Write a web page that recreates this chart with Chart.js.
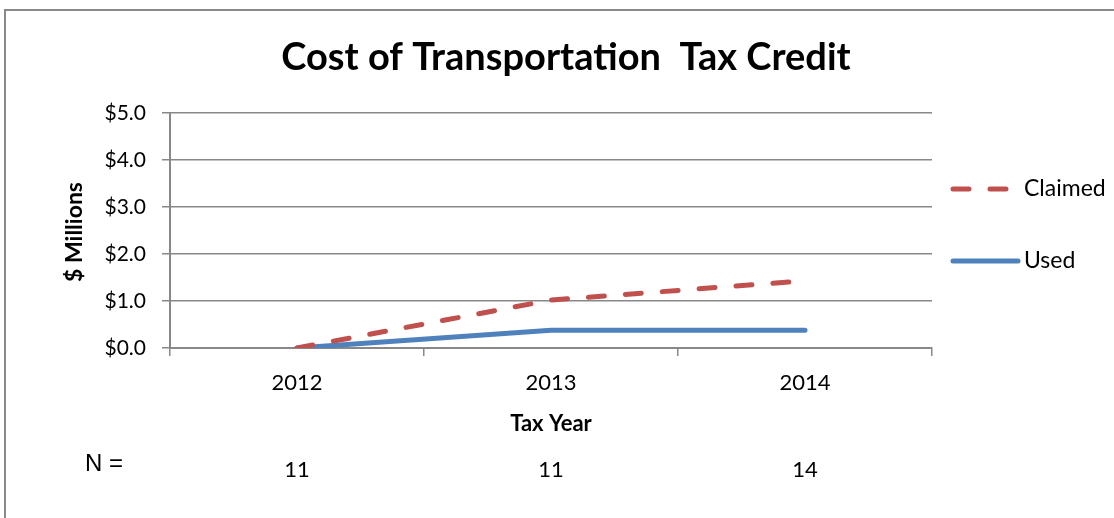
<!DOCTYPE html>
<html>
<head>
<meta charset="utf-8">
<script src="https://cdn.jsdelivr.net/npm/chart.js@4"></script>
<style>
  body { margin: 0; background: #fff; }
  #frame { position: absolute; left: 4px; top: 9px; width: 1130px; height: 530px; border: 2px solid #898989; box-sizing: border-box; }
  #wrap { position: absolute; left: 0; top: 0; width: 1114px; height: 518px; }
</style>
</head>
<body>
<div id="frame"></div>
<div id="wrap"><canvas id="chart" width="1114" height="518"></canvas></div>
<script>
// ===== DATA =====
const years = ["2012", "2013", "2014"];
const claimed = [0, 1.02, 1.43];
const used = [0, 0.38, 0.38];
const nCounts = ["11", "11", "14"];
const yTicks = [0, 1, 2, 3, 4, 5];
const chartTitle = "Cost of Transportation  Tax Credit";

const FONT = "Lato, 'Open Sans', sans-serif";
const GRID = "#888888";

// ===== EXTRA TEXT: title, N row, legend, y title =====
const extras = {
  id: "extras",
  afterDraw(chart) {
    const ctx = chart.ctx;
    const x = chart.scales.x;
    ctx.save();
    ctx.fillStyle = "#000";
    ctx.textBaseline = "middle";

    // title (centred on the page, not the plot)
    ctx.textAlign = "center";
    ctx.font = "bold 38px " + FONT;
    ctx.fillText(chartTitle, 566, 58);

    ctx.textAlign = "left";
    ctx.font = "24px 'Liberation Sans', Arial, sans-serif";
    ctx.fillText("N =", 85, 464);
    ctx.textAlign = "center";
    ctx.font = "22px " + FONT;
    nCounts.forEach((n, i) => ctx.fillText(n, x.getPixelForValue(i), 470));

    // y axis title
    ctx.save();
    ctx.translate(75, 232);
    ctx.rotate(-Math.PI / 2);
    ctx.font = "bold 23px " + FONT;
    ctx.fillText("$ Millions", 0, 0);
    ctx.restore();

    // legend
    const rows = [189, 261];
    chart.data.datasets.forEach((ds, i) => {
      const y = rows[i];
      ctx.beginPath();
      ctx.strokeStyle = ds.borderColor;
      ctx.lineWidth = ds.borderWidth;
      ctx.lineCap = "round";
      ctx.setLineDash(ds.borderDash || []);
      ctx.moveTo(953, y);
      ctx.lineTo(1018, y);
      ctx.stroke();
      ctx.setLineDash([]);
      ctx.fillStyle = "#000";
      ctx.textAlign = "left";
      ctx.font = "23px " + FONT;
      ctx.fillText(ds.label, 1024, y);
    });
    ctx.restore();
  }
};

new Chart(document.getElementById("chart"), {
  type: "line",
  data: {
    labels: years,
    datasets: [
      { label: "Claimed", data: claimed, borderColor: "#C0504D", borderWidth: 5, borderDash: [16, 21], borderCapStyle: "round", pointRadius: 0, tension: 0 },
      { label: "Used", data: used, borderColor: "#4F81BD", borderWidth: 5, borderCapStyle: "round", pointRadius: 0, tension: 0 }
    ]
  },
  options: {
    responsive: false,
    animation: false,
    layout: { padding: { left: 60, right: 182, top: 113, bottom: 70 } },
    plugins: {
      legend: { display: false },
      tooltip: { enabled: false },
      title: { display: false }
    },
    scales: {
      x: {
        offset: true,
        grid: { offset: true, drawOnChartArea: false, color: GRID, tickLength: 8, lineWidth: 1.5 },
        border: { color: GRID, width: 2 },
        ticks: { color: "#000", font: { family: FONT, size: 22 }, padding: 14, maxRotation: 0 },
        title: { display: true, text: "Tax Year", color: "#000", font: { family: FONT, size: 22, weight: "bold" }, padding: { top: 0, bottom: 11 } },
        afterFit(s) { s.height = 100; }
      },
      y: {
        min: 0,
        max: 5,
        afterBuildTicks(s) { s.ticks = yTicks.map(v => ({ value: v })); },
        grid: { color: GRID, tickLength: 8, lineWidth: 1.5 },
        border: { color: GRID, width: 2 },
        ticks: { color: "#000", font: { family: FONT, size: 21 }, padding: 16, callback: v => "$" + v.toFixed(1) },
        afterFit(s) { s.width = 110; }
      }
    }
  },
  plugins: [extras]
});
</script>
</body>
</html>
